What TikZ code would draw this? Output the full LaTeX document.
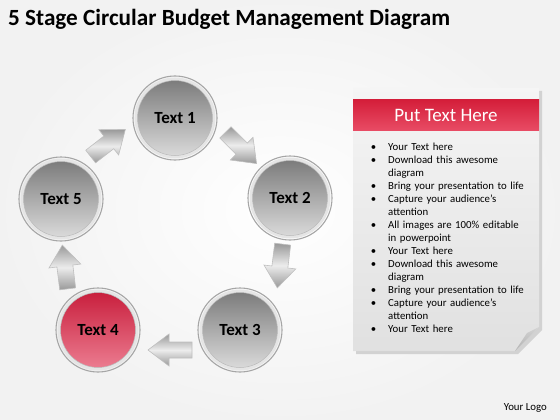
\documentclass[tikz,border=0pt]{standalone}
\usepackage{fontspec}
\setmainfont{Carlito}
\usetikzlibrary{calc}
\definecolor{redtop}{RGB}{200,30,60}
\definecolor{redbot}{RGB}{236,125,145}
\definecolor{hdrtop}{RGB}{212,30,58}
\definecolor{hdrbot}{RGB}{232,75,100}
\tikzset{
  ballg/.style={circle, inner sep=0pt, minimum size=78pt, top color=black!52, bottom color=black!14,
    draw=gray!20, line width=3pt, text=black, font=\bfseries\fontsize{17}{20}\selectfont},
  ballr/.style={ballg, top color=redtop, bottom color=redbot},
  rimline/.style={draw=gray!70, line width=1.1pt},
  barrow/.style={top color=gray!80, bottom color=gray!80, middle color=gray!15, draw=gray!50, line width=0.6pt},
}
\newcommand{\blockarrow}[4]{%
  \begin{scope}[shift={(#2,#3)}, rotate=#4]
    \coordinate (#1) at (0,0);
    \shade[barrow] (-22,-8) -- (1,-8) -- (1,-16) -- (22,0) -- (1,16) -- (1,8) -- (-22,8) -- cycle;
  \end{scope}}
\begin{document}
\begin{tikzpicture}[x=1pt, y=-1pt]
  \useasboundingbox (0,0) rectangle (560,420);
  \shade[inner color=white, outer color=gray!10] (0,0) rectangle (560,420);

  % title
  \node[anchor=base west, inner sep=0, font=\bfseries\fontsize{23.2}{26}\selectfont] (title) at (8,26)
    {5 Stage Circular Budget Management Diagram};

  % circles
  \node[ballg] (c1) at (175,118) {Text 1};
  \node[ballg] (c2) at (290,198) {Text 2};
  \node[ballg] (c3) at (240,330) {Text 3};
  \node[ballr] (c4) at (98,330) {Text 4};
  \node[ballg] (c5) at (61,199) {Text 5};
  \foreach \c in {c1,c2,c3,c4,c5}{
    \draw[rimline] (\c) circle[radius=42];
    \draw[gray!55, line width=0.5pt] (\c) circle[radius=37.5];
  }

  % block arrows
  \blockarrow{a51}{108}{143}{38}
  \blockarrow{a12}{241}{148}{-45}
  \blockarrow{a23}{280}{266}{-97}
  \blockarrow{a34}{170}{350}{180}
  \blockarrow{a45}{65}{267}{97}

  % panel
  \fill[gray!35] (356,91) -- (542,91) -- (542,330) -- (518,354) -- (356,354) -- cycle;
  \shade[top color=gray!8, bottom color=gray!24] (353,88) -- (539,88) -- (539,327) -- (515,351) -- (353,351) -- cycle;
  \shade[top color=gray!35, bottom color=gray!60] (539,327) -- (515,351) -- (527,333) -- cycle;
  \shade[top color=hdrtop, bottom color=hdrbot] (353,100) rectangle (539,130);
  \node[text=white, font=\fontsize{19}{21}\selectfont] (hdr) at (446,115) {Put Text Here};

  \node[anchor=north west, text width=160pt, inner sep=0pt, font=\fontsize{10.8}{13.05}\selectfont] (list) at (368,137) {%
    \raggedright
    \begin{list}{\textbullet}{\setlength{\leftmargin}{20pt}\setlength{\labelwidth}{8pt}\setlength{\labelsep}{12pt}%
      \setlength{\itemsep}{0pt}\setlength{\parsep}{0pt}\setlength{\topsep}{0pt}\setlength{\partopsep}{0pt}}
    \item Your Text here
    \item Download this awesome diagram
    \item Bring your presentation to life
    \item Capture your audience’s attention
    \item All images are 100\% editable in powerpoint
    \item Your Text here
    \item Download this awesome diagram
    \item Bring your presentation to life
    \item Capture your audience’s attention
    \item Your Text here
    \end{list}};

  \node[anchor=base east, inner sep=0, font=\fontsize{10.8}{13}\selectfont] (logo) at (547,410) {Your Logo};
\end{tikzpicture}
\end{document}
